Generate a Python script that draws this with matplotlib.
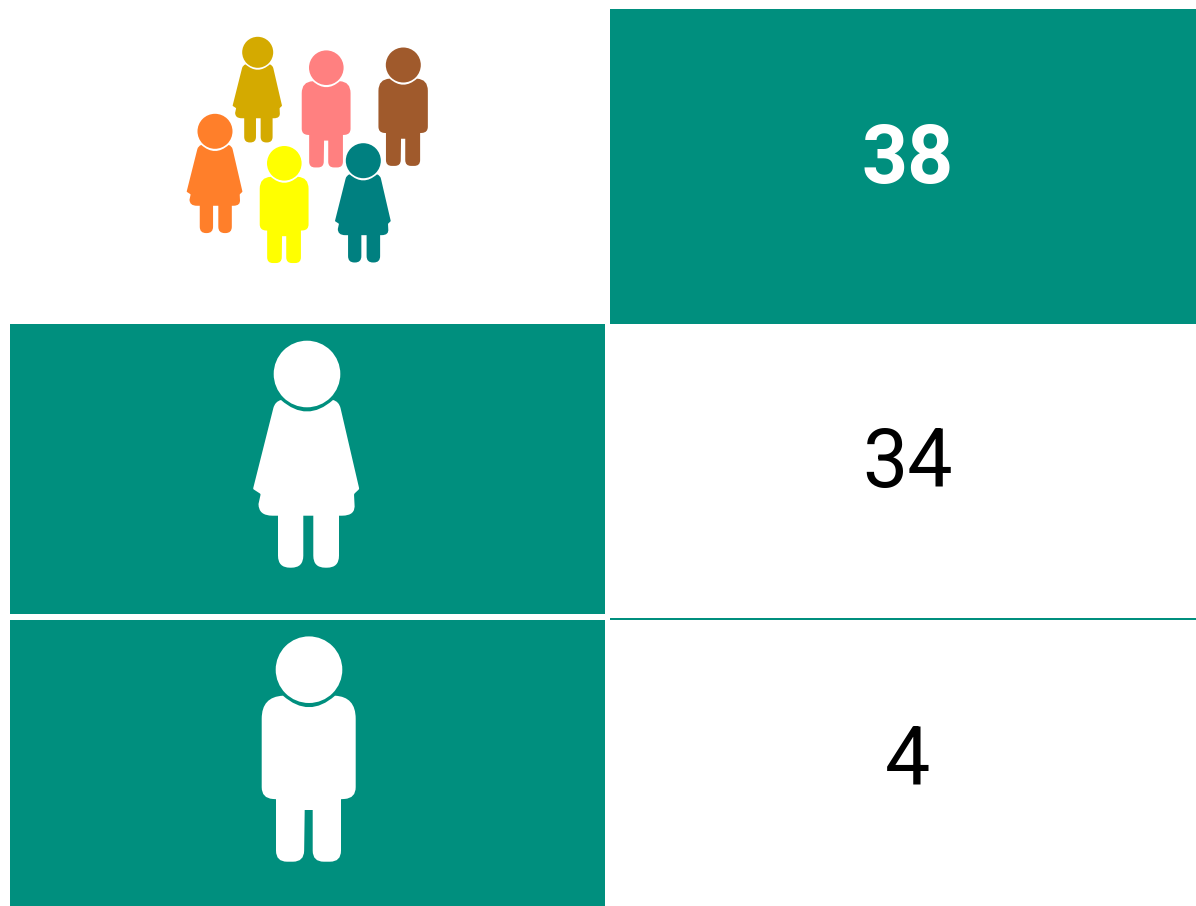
import numpy as np
import matplotlib
matplotlib.use('Agg')
import matplotlib.pyplot as plt
from matplotlib.patches import Circle, PathPatch, Rectangle
from matplotlib.path import Path

plt.rcParams['font.family'] = ['Roboto', 'DejaVu Sans']

# counts shown in the table
categories = ['total', 'girls', 'boys']
counts = [38, 34, 4]

TEAL = '#008F7E'

# outlines are in px of the big icons, relative to the head centre (x, y, corner radius)
HEAD_R = 33.3
GIRL_BODY = [(-26, 26), (-32, 27.5, 7), (-54, 115, 1), (-46.3, 120, 1), (-48.5, 130, 0),
             (-48.5, 141.7, 14), (-29, 141.7, 0), (-29, 193.7, 12), (-3.7, 193.7, 12), (-3.7, 141.7, 0),
             (6.3, 141.7, 0), (6.3, 193.7, 12), (32, 193.7, 12), (32, 141.7, 0),
             (49, 141.7, 14), (47.5, 130, 0), (47, 120, 1), (52.3, 115, 1), (32, 27.5, 7), (26, 26)]
BOY_BODY = [(-26, 26), (-47.3, 27, 22), (-47.3, 128.5, 11), (-33, 129.5, 0),
            (-33, 192, 11), (-5, 192, 11), (-4.3, 140.3, 0), (3.7, 140.3, 0), (3.7, 192, 11),
            (32, 192, 11), (32, 129.5, 0), (46.7, 128.5, 11), (46.7, 27, 22), (26, 26)]
NECK_CTRL = (0, 49)


def body_path(points, cx, cy, scale):
    verts = []
    codes = []
    pts = [np.array(p[:2], dtype=float) for p in points]
    for i, p in enumerate(points):
        here = pts[i]
        r = p[2] if len(p) > 2 else 0
        if r == 0:
            verts.append(here)
            codes.append(Path.MOVETO if i == 0 else Path.LINETO)
            continue
        a = pts[i - 1] - here
        b = pts[i + 1] - here
        ra = min(r, np.linalg.norm(a))
        rb = min(r, np.linalg.norm(b))
        verts += [here + a / np.linalg.norm(a) * ra, here, here + b / np.linalg.norm(b) * rb]
        codes += [Path.LINETO, Path.CURVE3, Path.CURVE3]
    # scooped neck back to the first point
    verts += [np.array(NECK_CTRL, dtype=float), pts[0], pts[0]]
    codes += [Path.CURVE3, Path.CURVE3, Path.CLOSEPOLY]
    verts = np.array(verts) * scale + [cx, cy]
    return Path(verts, codes)


def draw_person(ax, kind, cx, cy, head_r, color):
    scale = head_r / HEAD_R
    outline = GIRL_BODY if kind == 'girl' else BOY_BODY
    ax.add_patch(PathPatch(body_path(outline, cx, cy, scale), facecolor=color, edgecolor='none'))
    ax.add_patch(Circle((cx, cy), head_r, facecolor=color, edgecolor='none'))


fig = plt.figure(figsize=(11.96, 9.06), dpi=100)
ax = fig.add_axes([0, 0, 1, 1])
ax.set_xlim(0, 1196)
ax.set_ylim(906, 0)
ax.axis('off')

# panels
ax.add_patch(Rectangle((610, 9), 586, 315, facecolor=TEAL, edgecolor='none'))
ax.add_patch(Rectangle((10, 324), 595, 290, facecolor=TEAL, edgecolor='none'))
ax.add_patch(Rectangle((10, 620), 595, 286, facecolor=TEAL, edgecolor='none'))
ax.add_patch(Rectangle((610, 617.5), 586, 2.5, facecolor=TEAL, edgecolor='none'))

# group of small figures
draw_person(ax, 'girl', 257.7, 52.3, 15.5, '#D4AA00')
draw_person(ax, 'boy', 326.3, 67.7, 17.3, '#FF8080')
draw_person(ax, 'boy', 403.3, 65, 17.5, '#A05A2C')
draw_person(ax, 'girl', 215, 131.3, 17.5, '#FF7F2A')
draw_person(ax, 'boy', 284.3, 163.3, 17.3, '#FFFF00')
draw_person(ax, 'girl', 363.3, 160.7, 17.5, '#008080')

# big icons
draw_person(ax, 'girl', 307, 374, 33.3, 'white')
draw_person(ax, 'boy', 309, 669.7, 33.3, 'white')

# numbers
ax.text(907.5, 152, str(counts[0]), color='white', fontsize=58, fontweight='bold', ha='center', va='center_baseline')
ax.text(907.5, 457, str(counts[1]), color='black', fontsize=58, ha='center', va='center_baseline')
ax.text(907.5, 755, str(counts[2]), color='black', fontsize=58, ha='center', va='center_baseline')

fig.savefig('out.png', dpi=100)
